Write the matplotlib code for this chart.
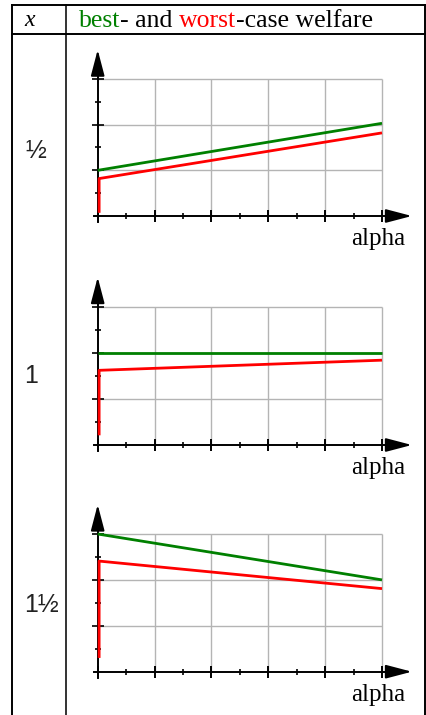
import matplotlib
matplotlib.use("Agg")
import matplotlib.pyplot as plt
import numpy as np

# ---------------- data ----------------
row_labels = ["½", "1", "1½"]
header_x = "x"
header_parts = [("best", "#008000"), ("- and ", "black"), ("worst", "#ff0000"), ("-case welfare", "black")]
axis_label = "alpha"

alpha_best = [0.0, 1.0]
best_half = [1.0, 2.03]
best_one = [2.0, 2.0]
best_three_halves = [3.0, 2.0]

alpha_worst = [0.005, 0.005, 1.0]
worst_half = [0.07, 0.82, 1.82]
worst_one = [0.21, 1.62, 1.84]
worst_three_halves = [0.30, 2.41, 1.81]

x_major = [0.0, 0.2, 0.4, 0.6, 0.8, 1.0]
x_minor = [0.1, 0.3, 0.5, 0.7, 0.9]
y_major = [1.0, 2.0, 3.0]
y_minor = [0.5, 1.5, 2.5]

best_series = [best_half, best_one, best_three_halves]
worst_series = [worst_half, worst_one, worst_three_halves]

# ---------------- layout ----------------
W, H = 426, 715
fig = plt.figure(figsize=(W / 100, H / 100), dpi=100)
fig.patch.set_facecolor("white")

def fx(px):
    return px / W

def fy(py):
    return 1 - py / H

# table lines
tbl = fig.add_axes([0, 0, 1, 1])
tbl.set_xlim(0, W)
tbl.set_ylim(H, 0)
tbl.axis("off")
tbl.plot([12, 12], [5, H], color="black", lw=1.4)
tbl.plot([66, 66], [5, H], color="#333333", lw=1.4)
tbl.plot([425, 425], [5, H], color="black", lw=1.4)
tbl.plot([12, 425], [5, 5], color="black", lw=1.4)
tbl.plot([12, 425], [34, 34], color="black", lw=1.4)

serif = "Liberation Serif"
tbl.text(30, 21, header_x, fontsize=17, family=serif, style="italic",
         ha="center", va="center")

# header colored text
fig.canvas.draw()
renderer = fig.canvas.get_renderer()
xpos = 79
for txt, col in header_parts:
    t = tbl.text(xpos, 27, txt, fontsize=18.5, family=serif, color=col,
                 ha="left", va="baseline")
    bb = t.get_window_extent(renderer=renderer)
    xpos += bb.width

label_pos = [(36, 151), (31, 376), (41, 605)]
for (lx, ly), lab in zip(label_pos, row_labels):
    tbl.text(lx, ly, lab, fontsize=18, family="Liberation Sans",
             ha="center", va="center", color="#222222")

# plot panels: pixel positions of alpha=0 / alpha=1 and value 0 / value 3
panels = [
    dict(x0=97.7, x1=382.0, y0=216.0, y3=79.0),
    dict(x0=97.7, x1=382.0, y0=445.0, y3=306.7),
    dict(x0=97.7, x1=382.0, y0=671.7, y3=534.0),
]
xlim = (-0.06, 1.16)
ylim = (-0.35, 3.8)

for i, p in enumerate(panels):
    sx = p["x1"] - p["x0"]
    sy = (p["y0"] - p["y3"]) / 3.0
    left = p["x0"] + xlim[0] * sx
    right = p["x0"] + xlim[1] * sx
    bottom = p["y0"] - ylim[0] * sy
    top = p["y0"] - ylim[1] * sy
    ax = fig.add_axes([fx(left), fy(bottom), (right - left) / W, (bottom - top) / H])
    ax.set_xlim(*xlim)
    ax.set_ylim(*ylim)
    ax.axis("off")

    # grid
    ax.hlines(y_major, 0, 1, color="#b4b4b4", lw=1.0, zorder=1)
    ax.vlines(x_major[1:], 0, 3, color="#b4b4b4", lw=1.0, zorder=1)

    # axes with arrows
    ax.plot([-0.012, 1.06], [0, 0], color="black", lw=1.4, zorder=3)
    ax.plot([0, 0], [-0.13, 3.45], color="black", lw=1.4, zorder=3)
    ax.annotate("", xy=(1.105, 0), xytext=(1.03, 0),
                arrowprops=dict(arrowstyle="-|>,head_length=1.6,head_width=0.42",
                                color="black", lw=1.4, mutation_scale=10,
                                shrinkA=0, shrinkB=0), zorder=4)
    ax.annotate("", xy=(0, 3.64), xytext=(0, 3.3),
                arrowprops=dict(arrowstyle="-|>,head_length=1.6,head_width=0.42",
                                color="black", lw=1.4, mutation_scale=10,
                                shrinkA=0, shrinkB=0), zorder=4)

    # ticks
    ax.plot(x_major, [0] * len(x_major), ls="none", marker="|", ms=9,
            mew=1.4, color="black", zorder=3)
    ax.plot(x_minor, [0] * len(x_minor), ls="none", marker="|", ms=4.5,
            mew=1.2, color="black", zorder=3)
    ax.plot([0] * len(y_major), y_major, ls="none", marker="_", ms=8,
            mew=1.2, color="black", zorder=3)
    ax.plot([0] * len(y_minor), y_minor, ls="none", marker="_", ms=4,
            mew=1.2, color="black", zorder=3)

    # data
    ax.plot(alpha_best, best_series[i], color="#008000", lw=2.0, zorder=5,
            solid_capstyle="butt")
    ax.plot(alpha_worst, worst_series[i], color="#ff0000", lw=2.0, zorder=5,
            solid_capstyle="butt")

    # axis label
    ax.text(0.986, -0.5, axis_label, fontsize=18, family=serif,
            ha="center", va="center", clip_on=False)

fig.savefig("out.png", dpi=100)
